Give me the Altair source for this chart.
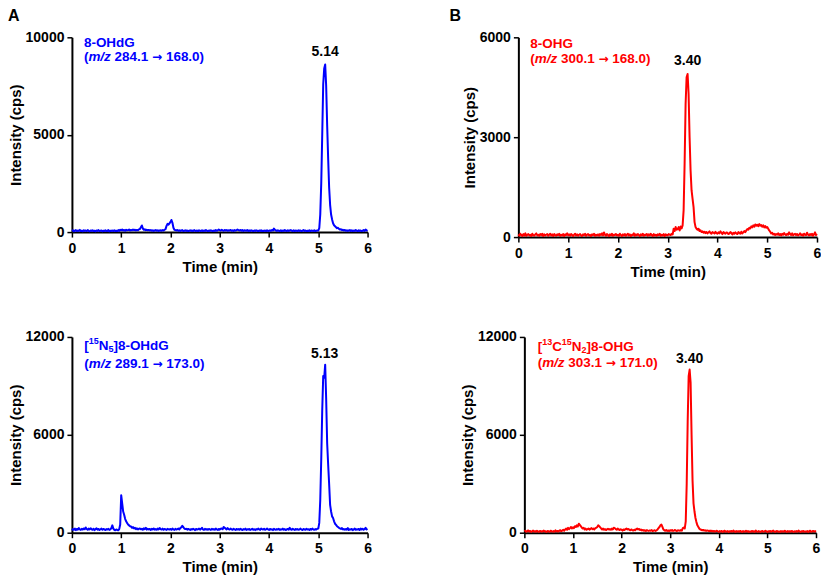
import altair as alt
import pandas as pd

STEP_MIN = 0.02
X_TICKS = [0, 1, 2, 3, 4, 5, 6]

# 8-OHdG (m/z 284.1 -> 168.0), cps, one value every 0.02 min from 0 to 6 min
ohdg_cps = [
    60, 90, 40, 70, 100, 50, 80, 60, 110, 50,
    70, 40, 90, 60, 80, 50, 100, 60, 40, 80,
    60, 90, 50, 70, 40, 80, 60, 100, 50, 70,
    80, 40, 70, 60, 90, 50, 60, 100, 40, 70,
    60, 80, 50, 90, 60, 70, 50, 100, 60, 120,
    90, 130, 80, 110, 70, 120, 90, 100, 130, 80,
    110, 90, 130, 100, 120, 80, 110, 90, 140, 160,
    250, 340, 180, 120, 140, 100, 120, 90, 110, 80,
    100, 70, 90, 60, 80, 100, 70, 90, 60, 80,
    90, 70, 100, 80, 120, 150, 320, 420, 380, 450,
    520, 620, 480, 220, 120, 100, 80, 110, 70, 90,
    60, 80, 100, 50, 70, 90, 60, 80, 50, 70,
    90, 60, 80, 50, 100, 70, 60, 80, 50, 90,
    70, 60, 90, 50, 80, 60, 100, 70, 50, 80,
    60, 90, 70, 50, 80, 60, 100, 70, 90, 130,
    100, 80, 120, 90, 70, 110, 80, 100, 70, 90,
    80, 110, 70, 90, 60, 100, 80, 90, 130, 100,
    80, 110, 70, 100, 60, 90, 80, 70, 100, 60,
    80, 60, 90, 70, 50, 80, 60, 90, 70, 50,
    80, 60, 90, 50, 70, 60, 80, 50, 90, 60,
    70, 90, 60, 110, 80, 180, 110, 80, 60, 90,
    70, 60, 90, 50, 80, 60, 100, 70, 60, 90,
    60, 80, 100, 70, 60, 90, 50, 80, 70, 60,
    90, 60, 80, 50, 70, 100, 60, 80, 50, 70,
    60, 90, 50, 80, 70, 60, 90, 50, 70, 80,
    80, 200, 900, 2500, 5000, 7600, 8400, 8600, 7500, 5500,
    3800, 2300, 1400, 900, 650, 450, 350, 300, 250, 200,
    220, 160, 130, 150, 100, 120, 80, 110, 70, 90,
    60, 80, 100, 60, 90, 50, 80, 60, 100, 70,
    50, 90, 60, 80, 50, 70, 100, 60, 130, 90,
    60,
]

# 8-OHG (m/z 300.1 -> 168.0)
ohg_cps = [
    80, 40, 100, 60, 30, 90, 50, 110, 40, 70,
    90, 50, 70, 30, 100, 60, 40, 80, 110, 50,
    70, 40, 90, 60, 100, 30, 80, 50, 70, 90,
    40, 70, 100, 50, 80, 30, 90, 60, 40, 80,
    60, 100, 40, 70, 50, 90, 30, 80, 60, 110,
    50, 80, 40, 90, 60, 30, 70, 100, 50, 80,
    40, 70, 90, 50, 30, 80, 60, 100, 40, 70,
    90, 50, 70, 30, 80, 60, 100, 40, 70, 50,
    80, 40, 90, 60, 110, 50, 140, 70, 40, 90,
    60, 30, 80, 50, 100, 40, 70, 60, 90, 50,
    70, 40, 100, 60, 30, 80, 50, 90, 40, 70,
    100, 50, 80, 30, 70, 60, 110, 40, 80, 50,
    90, 60, 30, 80, 50, 100, 40, 70, 60, 90,
    40, 80, 50, 100, 60, 30, 90, 50, 70, 40,
    80, 60, 100, 40, 70, 50, 90, 30, 80, 60,
    50, 90, 70, 60, 100, 80, 250, 180, 300, 220,
    240, 300, 200, 320, 260, 350, 800, 2200, 4000, 4800,
    4900, 4300, 3000, 2000, 1400, 1150, 900, 450, 300, 250,
    220, 250, 180, 200, 150, 170, 130, 160, 120, 150,
    110, 140, 170, 120, 100, 150, 130, 110, 160, 120,
    100, 140, 110, 170, 130, 90, 150, 120, 100, 140,
    130, 90, 110, 150, 120, 80, 130, 100, 140, 110,
    90, 150, 120, 100, 160, 110, 140, 180, 150, 200,
    240, 220, 280, 260, 320, 290, 350, 310, 380, 340,
    370, 330, 390, 340, 360, 310, 350, 290, 330, 280,
    300, 250, 200, 160, 110, 130, 80, 100, 60, 90,
    70, 110, 60, 90, 50, 100, 70, 120, 80, 60,
    100, 70, 140, 90, 60, 110, 50, 80, 100, 60,
    90, 50, 70, 110, 60, 80, 40, 100, 70, 60,
    130, 70, 50, 90, 60, 100, 40, 80, 140, 60,
    90,
]

# [15N5]8-OHdG (m/z 289.1 -> 173.0)
ohdg_15n5_cps = [
    150, 220, 180, 250, 160, 230, 190, 280, 200, 170,
    240, 190, 260, 210, 320, 230, 180, 250, 200, 270,
    210, 180, 240, 160, 220, 270, 190, 230, 170, 210,
    250, 180, 230, 200, 160, 220, 190, 240, 170, 200,
    280, 450, 250, 180, 150, 200, 170, 150, 220, 500,
    2300, 1800, 1300, 1100, 850, 700, 600, 500, 450, 400,
    380, 300, 340, 260, 300, 220, 270, 200, 240, 260,
    210, 240, 180, 270, 220, 300, 190, 240, 200, 230,
    170, 240, 200, 260, 190, 220, 180, 250, 200, 290,
    220, 190, 250, 180, 230, 200, 170, 240, 210, 190,
    230, 180, 250, 200, 170, 240, 190, 220, 260, 200,
    280, 330, 420, 350, 260, 220, 240, 190, 230, 200,
    170, 220, 190, 240, 200, 160, 230, 190, 210, 250,
    190, 230, 300, 200, 170, 240, 190, 220, 180, 230,
    200, 170, 240, 190, 220, 180, 250, 200, 170, 230,
    190, 240, 260, 220, 350, 300, 250, 200, 280, 220,
    190, 250, 210, 180, 240, 200, 170, 230, 190, 220,
    180, 240, 200, 160, 220, 190, 250, 170, 210, 190,
    230, 170, 200, 240, 180, 210, 160, 220, 190, 250,
    200, 170, 260, 220, 190, 240, 180, 210, 250, 200,
    170, 230, 190, 210, 160, 240, 200, 180, 220, 190,
    240, 170, 210, 190, 250, 180, 220, 160, 200, 230,
    190, 300, 210, 180, 240, 200, 170, 230, 190, 220,
    180, 210, 250, 190, 170, 230, 200, 180, 240, 190,
    210, 170, 230, 190, 250, 200, 180, 220, 190, 240,
    250, 600, 2000, 4500, 7500, 9600, 9500, 10300, 8200, 5500,
    4200, 3000, 1700, 1300, 1000, 900, 700, 550, 480, 400,
    350, 300, 260, 230, 280, 200, 220, 180, 230, 190,
    280, 170, 210, 190, 230, 160, 200, 250, 180, 210,
    190, 230, 170, 260, 200, 240, 180, 220, 300, 200,
    230,
]

# [13C15N2]8-OHG (m/z 303.1 -> 171.0)
ohg_13c15n2_cps = [
    80, 120, 60, 100, 140, 70, 110, 50, 90, 130,
    70, 100, 60, 120, 80, 50, 110, 90, 60, 100,
    130, 70, 90, 50, 110, 80, 60, 120, 90, 70,
    100, 60, 140, 80, 110, 70, 120, 150, 90, 130,
    180, 120, 200, 250, 180, 300, 220, 280, 350, 260,
    330, 280, 400, 350, 450, 380, 550, 480, 400, 320,
    260, 300, 200, 250, 180, 220, 260, 190, 230, 280,
    220, 260, 200, 280, 300, 350, 450, 400, 330, 260,
    200, 250, 180, 220, 160, 200, 240, 190, 220, 180,
    250, 200, 300, 280, 220, 180, 250, 200, 160, 210,
    180, 130, 200, 160, 220, 250, 200, 230, 180, 150,
    200, 160, 130, 180, 150, 220, 250, 200, 230, 170,
    190, 140, 170, 120, 150, 100, 160, 130, 110, 140,
    120, 160, 100, 130, 150, 110, 140, 200, 280, 350,
    450, 500, 350, 200, 150, 120, 160, 110, 140, 100,
    150, 120, 160, 110, 130, 170, 120, 100, 150, 130,
    120, 160, 130, 280, 320, 260, 700, 3000, 6800, 9600,
    10000, 9200, 6000, 3200, 1800, 1300, 900, 650, 450, 350,
    250, 200, 180, 150, 170, 130, 150, 110, 140, 120,
    100, 130, 90, 120, 80, 110, 70, 100, 120, 80,
    60, 100, 70, 110, 50, 90, 120, 60, 80, 100,
    50, 90, 70, 110, 60, 130, 80, 50, 100, 70,
    90, 60, 110, 70, 50, 100, 80, 60, 120, 70,
    100, 50, 80, 60, 110, 70, 90, 50, 130, 80,
    60, 100, 70, 50, 90, 110, 60, 80, 120, 70,
    50, 90, 70, 110, 60, 100, 130, 70, 50, 90,
    110, 60, 80, 50, 100, 70, 90, 60, 120, 80,
    50, 100, 70, 90, 60, 110, 80, 50, 90, 70,
    100, 60, 130, 80, 50, 90, 70, 110, 60, 80,
    70, 100, 50, 90, 120, 60, 80, 110, 70, 100,
    60,
]

y_ticks_ohdg = [0, 5000, 10000]
y_ticks_ohg = [0, 3000, 6000]
y_ticks_is = [0, 6000, 12000]

peak_times = [5.14, 3.40, 5.13, 3.40]
peak_heights = [8600, 4900, 10300, 10000]
peak_labels = ["5.14", "3.40", "5.13", "3.40"]

BLUE = "#0000FF"
RED = "#FF0000"
FONT = "Liberation Sans"
ARROW_FONT = "DejaVu Sans"

# Bold advance widths (per 1000 em), used only to place the text pieces side by side
W = {" ": 278, "(": 333, ")": 333, "[": 333, "]": 333, "-": 333, ".": 278, "/": 278,
     "C": 722, "G": 778, "H": 722, "N": 722, "O": 778, "d": 611, "m": 889, "z": 500,
     "→": 838}


def text_width(s, size):
    return sum(W.get(c, 556) for c in s) / 1000.0 * size


def annotation_layers(lines, x0, color, F=13.5, S=9):
    layers = []
    for y, pieces in lines:
        x = x0
        for txt, kind in pieces:
            size = S if kind in ("sup", "sub") else (12 if kind == "arrow" else F)
            if txt.startswith(" "):
                x += W[" "] / 1000.0 * size
                txt = txt.lstrip(" ")
            dy = -4.5 if kind == "sup" else (3.5 if kind == "sub" else 0)
            mk = dict(text=txt.rstrip(" "), align="left", baseline="middle", fontSize=size,
                      fontWeight="bold", color=color,
                      font=ARROW_FONT if kind == "arrow" else FONT)
            if kind == "i":
                mk["fontStyle"] = "italic"
            layers.append(
                alt.Chart(pd.DataFrame({"k": [0]}))
                .mark_text(**mk)
                .encode(x=alt.value(x), y=alt.value(y + dy))
            )
            x += text_width(txt, size)
    return layers


def mz_line(y, precursor, product):
    return (y, [("(", "n"), ("m/z", "i"), (" " + precursor + " ", "n"),
                ("→", "arrow"), (" " + product + ")", "n")])


def panel(vals, color, ymax, yticks, w, h, pi, pk_dy, lines, x0, letter=None, lx=0, ly=0):
    df = pd.DataFrame({"t": [round(i * STEP_MIN, 2) for i in range(len(vals))], "v": vals})
    x = alt.X("t:Q", title="Time (min)",
              scale=alt.Scale(domain=[0, 6], nice=False, zero=False),
              axis=alt.Axis(values=X_TICKS, format="d"))
    y = alt.Y("v:Q", title="Intensity (cps)",
              scale=alt.Scale(domain=[0, ymax], nice=False),
              axis=alt.Axis(values=yticks, format="d"))
    line = alt.Chart(df).mark_line(color=color, strokeWidth=2, strokeJoin="round").encode(x=x, y=y)
    pk_df = pd.DataFrame({"t": [peak_times[pi]], "v": [peak_heights[pi]], "lab": [peak_labels[pi]]})
    pk = alt.Chart(pk_df).mark_text(fontSize=14, fontWeight="bold", color="black",
                                    baseline="middle", dy=pk_dy, font=FONT).encode(x=x, y=y, text="lab:N")
    layers = [line, pk] + annotation_layers(lines, x0, color)
    if letter:
        layers.append(
            alt.Chart(pd.DataFrame({"k": [0]}))
            .mark_text(text=letter, align="left", baseline="middle", fontSize=16,
                       fontWeight="bold", color="black", font=FONT)
            .encode(x=alt.value(lx), y=alt.value(ly))
        )
    return alt.layer(*layers).properties(width=w, height=h)


tl = panel(ohdg_cps, BLUE, 10000, y_ticks_ohdg, 296, 195, 0, -12.5,
           [(5.5, [("8-OHdG", "n")]), mz_line(20, "284.1", "168.0")],
           12, letter="A", lx=-64, ly=-21)
tr = panel(ohg_cps, RED, 6000, y_ticks_ohg, 299, 200, 1, -13,
           [(6.3, [("8-OHG", "n")]), mz_line(22, "300.1", "168.0")],
           12, letter="B", lx=-69, ly=-21)
bl = panel(ohdg_15n5_cps, BLUE, 12000, y_ticks_is, 296, 196, 2, -11,
           [(8.7, [("[", "n"), ("15", "sup"), ("N", "n"), ("5", "sub"), ("]8-OHdG", "n")]),
            mz_line(27.5, "289.1", "173.0")],
           12.3)
br = panel(ohg_13c15n2_cps, RED, 12000, y_ticks_is, 292, 196, 3, -11,
           [(10, [("[", "n"), ("13", "sup"), ("C", "n"), ("15", "sup"), ("N", "n"), ("2", "sub"), ("]8-OHG", "n")]),
            mz_line(26, "303.1", "171.0")],
           13.3)

row1 = alt.hconcat(tl, tr, spacing=78)
row2 = alt.hconcat(bl, br, spacing=89)

chart = (
    alt.vconcat(row1, row2, spacing=51)
    .properties(padding=0)
    .configure(font=FONT)
    .configure_view(strokeWidth=0)
    .configure_axis(
        domainColor="black", domainWidth=2, tickColor="black", tickWidth=1.5, tickSize=5,
        labelFont=FONT, labelFontSize=14, labelFontWeight="bold", labelColor="black",
        titleFont=FONT, titleFontSize=15, titleFontWeight="bold", titleColor="black",
        grid=False, labelFlush=False, labelOverlap=False,
    )
    .configure_axisX(labelPadding=4, titlePadding=4)
    .configure_axisY(labelPadding=3, titlePadding=2)
)

chart.save("out.html", embed_options={"renderer": "svg", "actions": False})
